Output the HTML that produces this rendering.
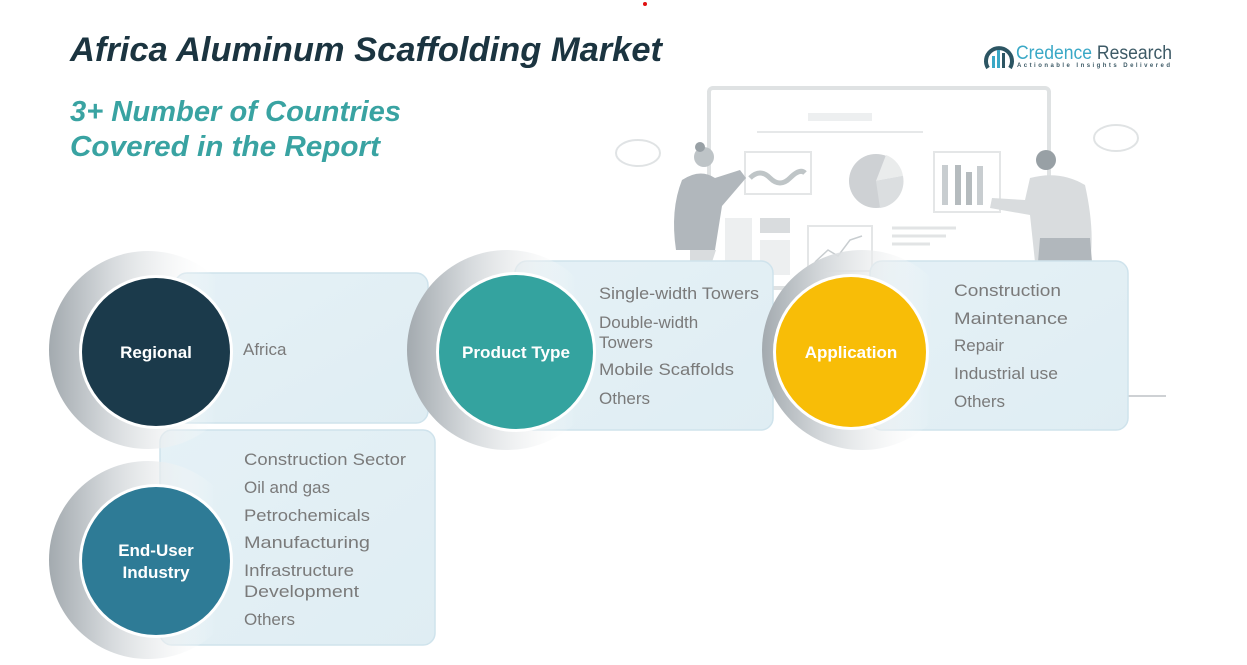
<!DOCTYPE html>
<html><head><meta charset="utf-8"><style>
html,body{margin:0;padding:0;background:#fff;width:1247px;height:665px;overflow:hidden}
svg{display:block}
.t{font-family:"Liberation Sans",sans-serif;fill:#7a7a7a;font-size:17px}
.c{font-family:"Liberation Sans",sans-serif;fill:#fff;font-size:17px;font-weight:bold}
</style></head><body>
<svg width="1247" height="665" viewBox="0 0 1247 665">
<defs>
<linearGradient id="ring" x1="0" y1="0" x2="1" y2="0">
<stop offset="0" stop-color="#a3aaaf" stop-opacity="1"/><stop offset="0.3" stop-color="#d4d8db" stop-opacity="1"/><stop offset="0.6" stop-color="#eef0f1" stop-opacity="0.6"/><stop offset="0.85" stop-color="#fff" stop-opacity="0"/>
</linearGradient>
<linearGradient id="box" x1="0" y1="0" x2="1" y2="1">
<stop offset="0" stop-color="#e5f1f6"/><stop offset="1" stop-color="#dfedf3"/>
</linearGradient>
</defs>
<circle cx="645" cy="4" r="2" fill="#e01010"/>
<text x="70" y="61" font-family="Liberation Sans,sans-serif" font-style="italic" font-weight="bold" font-size="34" fill="#1b3440" textLength="592" lengthAdjust="spacingAndGlyphs">Africa Aluminum Scaffolding Market</text>
<text x="70" y="121" font-family="Liberation Sans,sans-serif" font-style="italic" font-weight="bold" font-size="29" fill="#39a3a2" textLength="331" lengthAdjust="spacingAndGlyphs">3+ Number of Countries</text>
<text x="70" y="156" font-family="Liberation Sans,sans-serif" font-style="italic" font-weight="bold" font-size="29" fill="#39a3a2" textLength="310" lengthAdjust="spacingAndGlyphs">Covered in the Report</text>
<g>
<path d="M988 68 A13 13 0 1 1 1010 68" fill="none" stroke="#2c5563" stroke-width="4"/>
<rect x="992" y="56" width="3" height="12" fill="#39a8c6"/><rect x="997" y="50" width="3" height="18" fill="#39a8c6"/><rect x="1002" y="53" width="3" height="15" fill="#2c5563"/>
<text x="1016" y="59" font-family="Liberation Sans,sans-serif" font-size="19" fill="#39a8c6" textLength="156" lengthAdjust="spacingAndGlyphs">Credence <tspan fill="#3d5a66">Research</tspan></text>
<text x="1017" y="67" font-family="Liberation Sans,sans-serif" font-size="6" font-weight="bold" fill="#3d5a66" textLength="154" letter-spacing="1">Actionable Insights Delivered</text>
</g>
<g opacity="0.9">
<rect x="709" y="88" width="340" height="200" rx="4" fill="#fff" stroke="#dcdfe1" stroke-width="4"/>
<rect x="808" y="113" width="64" height="8" fill="#eceeef"/>
<line x1="757" y1="132" x2="923" y2="132" stroke="#e4e6e7" stroke-width="2"/>
<rect x="745" y="152" width="66" height="42" fill="none" stroke="#e2e4e5" stroke-width="2"/>
<path d="M750 178 q10 -10 20 0 t20 0 t15 -5" stroke="#b9bfc2" stroke-width="5" fill="none"/>
<circle cx="876" cy="181" r="27" fill="#c9cdd0"/>
<path d="M876 181 L886 155 A27 27 0 0 1 903 176 Z" fill="#e8eaeb"/>
<path d="M876 181 L903 176 A27 27 0 0 1 880 208 Z" fill="#d8dbdd"/>
<rect x="934" y="152" width="66" height="60" fill="none" stroke="#e2e4e5" stroke-width="2"/>
<rect x="942" y="165" width="6" height="40" fill="#c3c8cb"/><rect x="955" y="165" width="6" height="40" fill="#aeb4b8"/><rect x="966" y="172" width="6" height="33" fill="#aeb4b8"/><rect x="977" y="166" width="6" height="39" fill="#c3c8cb"/>
<rect x="725" y="218" width="27" height="60" fill="#eceeef"/><rect x="760" y="218" width="30" height="15" fill="#d5d9db"/><rect x="760" y="240" width="30" height="35" fill="#eceeef"/>
<rect x="808" y="226" width="64" height="45" fill="none" stroke="#e2e4e5" stroke-width="2"/>
<polyline points="815,262 828,250 838,256 850,240 862,236" fill="none" stroke="#c3c8cb" stroke-width="1.5"/>
<line x1="892" y1="228" x2="956" y2="228" stroke="#dfe2e3" stroke-width="3"/><line x1="892" y1="236" x2="946" y2="236" stroke="#dfe2e3" stroke-width="3"/><line x1="892" y1="244" x2="930" y2="244" stroke="#dfe2e3" stroke-width="3"/>
<circle cx="704" cy="157" r="10" fill="#b8bec2"/><circle cx="700" cy="147" r="5" fill="#8d969c"/>
<path d="M682 180 Q700 168 715 178 L740 170 L746 178 L722 206 L715 250 L676 250 Q670 210 682 180Z" fill="#a9b0b5"/>
<path d="M690 250 L716 250 L712 262 L690 262Z" fill="#d5d9db"/>
<circle cx="1046" cy="160" r="10" fill="#8d969c"/>
<path d="M1030 178 Q1060 170 1085 185 Q1095 230 1090 262 L1035 262 L1030 215 L990 208 L992 198 L1025 200Z" fill="#d5d9db"/>
<path d="M1040 238 L1090 238 L1092 262 L1038 262Z" fill="#a9b0b5"/>
<ellipse cx="638" cy="153" rx="22" ry="13" fill="none" stroke="#dde0e2" stroke-width="2"/>
<ellipse cx="1116" cy="138" rx="22" ry="13" fill="none" stroke="#dde0e2" stroke-width="2"/>
<line x1="1120" y1="396" x2="1166" y2="396" stroke="#c9cdd0" stroke-width="2"/>
</g>
<rect x="175" y="273" width="253" height="150" rx="12" fill="url(#box)" stroke="#cfe3ec" stroke-width="1.5"/>
<rect x="515" y="261" width="258" height="169" rx="12" fill="url(#box)" stroke="#cfe3ec" stroke-width="1.5"/>
<rect x="870" y="261" width="258" height="169" rx="12" fill="url(#box)" stroke="#cfe3ec" stroke-width="1.5"/>
<rect x="160" y="430" width="275" height="215" rx="12" fill="url(#box)" stroke="#cfe3ec" stroke-width="1.5"/>
<circle cx="148" cy="350" r="99" fill="url(#ring)"/>
<circle cx="507" cy="350" r="100" fill="url(#ring)"/>
<circle cx="862" cy="350" r="100" fill="url(#ring)"/>
<circle cx="148" cy="560" r="99" fill="url(#ring)"/>
<circle cx="156" cy="352" r="77" fill="#fff"/><circle cx="156" cy="352" r="74" fill="#1b3a4b"/>
<circle cx="516" cy="352" r="80" fill="#fff"/><circle cx="516" cy="352" r="77" fill="#34a39f"/>
<circle cx="851" cy="352" r="78" fill="#fff"/><circle cx="851" cy="352" r="75" fill="#f8bd07"/>
<circle cx="156" cy="561" r="77" fill="#fff"/><circle cx="156" cy="561" r="74" fill="#2e7b96"/>
<text class="c" x="156" y="358" text-anchor="middle">Regional</text>
<text class="c" x="516" y="358" text-anchor="middle" textLength="108" lengthAdjust="spacingAndGlyphs">Product Type</text>
<text class="c" x="851" y="358" text-anchor="middle">Application</text>
<text class="c" x="156" y="556" text-anchor="middle">End-User</text>
<text class="c" x="156" y="578" text-anchor="middle">Industry</text>
<text class="t" x="243" y="355">Africa</text>
<text class="t" x="599" y="299" textLength="160" lengthAdjust="spacingAndGlyphs">Single-width Towers</text>
<text class="t" x="599" y="328">Double-width</text>
<text class="t" x="599" y="348">Towers</text>
<text class="t" x="599" y="375" textLength="135" lengthAdjust="spacingAndGlyphs">Mobile Scaffolds</text>
<text class="t" x="599" y="404">Others</text>
<text class="t" x="954" y="296" textLength="107" lengthAdjust="spacingAndGlyphs">Construction</text>
<text class="t" x="954" y="324" textLength="114" lengthAdjust="spacingAndGlyphs">Maintenance</text>
<text class="t" x="954" y="351">Repair</text>
<text class="t" x="954" y="379" textLength="104" lengthAdjust="spacingAndGlyphs">Industrial use</text>
<text class="t" x="954" y="407">Others</text>
<text class="t" x="244" y="465" textLength="162" lengthAdjust="spacingAndGlyphs">Construction Sector</text>
<text class="t" x="244" y="493">Oil and gas</text>
<text class="t" x="244" y="521" textLength="126" lengthAdjust="spacingAndGlyphs">Petrochemicals</text>
<text class="t" x="244" y="548" textLength="126" lengthAdjust="spacingAndGlyphs">Manufacturing</text>
<text class="t" x="244" y="576" textLength="110" lengthAdjust="spacingAndGlyphs">Infrastructure</text>
<text class="t" x="244" y="597" textLength="115" lengthAdjust="spacingAndGlyphs">Development</text>
<text class="t" x="244" y="625">Others</text>
</svg>
</body></html>
